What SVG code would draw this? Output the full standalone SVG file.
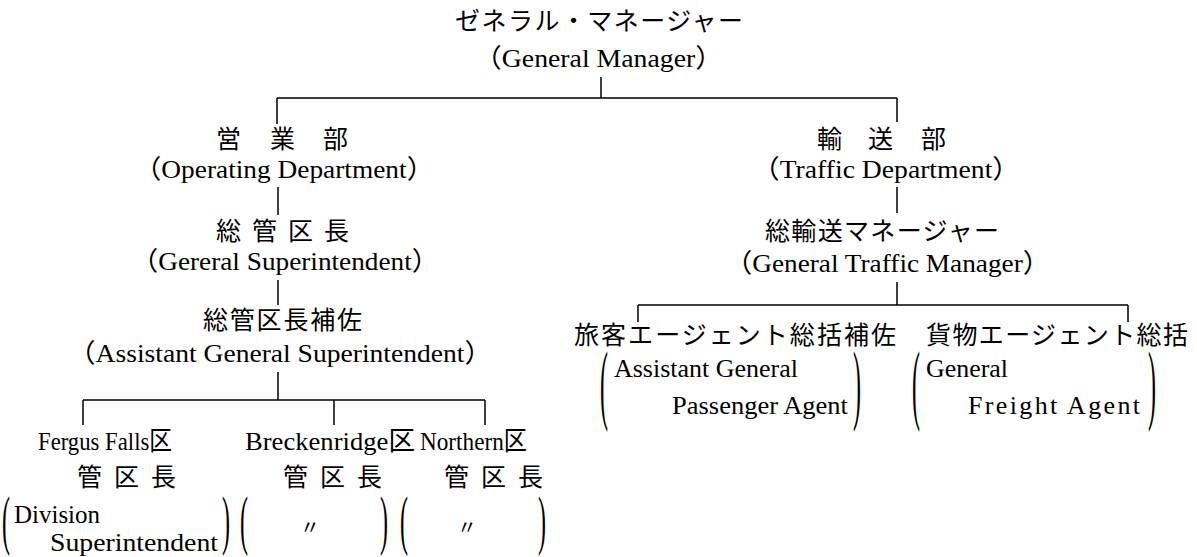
<svg xmlns="http://www.w3.org/2000/svg" width="1197" height="557" viewBox="0 0 1197 557">
<style>
.jp{font-family:"Noto Sans CJK JP","Noto Sans CJK SC",sans-serif;font-size:25px;fill:#000}
.en{font-family:"Liberation Serif","Noto Sans CJK JP",serif;font-size:26px;fill:#000}
.br{font-family:"Liberation Serif",serif;font-size:24px;fill:#000}
.ln{stroke:#000;stroke-width:1.5;fill:none}
</style>
<rect width="1197" height="557" fill="#fff"/>
<g id="connectors" class="ln">
<path d="M601 77V98M277 98H897M277 98V124M897 98V122"/>
<path d="M278 187V215M897 187V213"/>
<path d="M278 280V305M897 282V305"/>
<path d="M638 305H1128M638 305V322M1128 305V322"/>
<path d="M278 372V400M83 400H485M83 400V425M334 400V425M485 400V425"/>
</g>
<g id="gm">
<text class="jp" x="455" y="30" textLength="288" lengthAdjust="spacing">ゼネラル・マネージャー</text>
<text class="en" x="474" y="67" textLength="249" lengthAdjust="spacingAndGlyphs">（General Manager）</text>
</g>
<g id="operating">
<text class="jp" x="216 270 323" y="148">営業部</text>
<text class="en" x="134" y="178" textLength="300" lengthAdjust="spacingAndGlyphs">（Operating Department）</text>
</g>
<g id="gensup">
<text class="jp" x="216 252 288 324" y="240">総管区長</text>
<text class="en" x="131" y="270" textLength="308" lengthAdjust="spacingAndGlyphs">（Gereral Superintendent）</text>
</g>
<g id="asstgensup">
<text class="jp" x="203" y="329" textLength="159" lengthAdjust="spacing">総管区長補佐</text>
<text class="en" x="68" y="362" textLength="424" lengthAdjust="spacingAndGlyphs">（Assistant General Superintendent）</text>
</g>
<g id="fergus">
<text class="en" x="38" y="450" textLength="134" lengthAdjust="spacingAndGlyphs">Fergus Falls区</text>
<text class="jp" x="77 114 151" y="486">管区長</text>
<text class="br" transform="translate(2,542) scale(1,2.7)">(</text>
<text class="en" x="14" y="523" textLength="86" lengthAdjust="spacingAndGlyphs">Division</text>
<text class="en" x="50" y="551" textLength="168" lengthAdjust="spacingAndGlyphs">Superintendent</text>
<text class="br" transform="translate(222,542) scale(1,2.7)">)</text>
</g>
<g id="breckenridge">
<text class="en" x="245" y="450" textLength="170" lengthAdjust="spacingAndGlyphs">Breckenridge区</text>
<text class="jp" x="283 320 357" y="486">管区長</text>
<text class="br" transform="translate(240,542) scale(1,2.7)">(</text>
<text class="jp" x="300" y="535" style="font-size:20px">〃</text>
<text class="br" transform="translate(380,542) scale(1,2.7)">)</text>
</g>
<g id="northern">
<text class="en" x="420" y="450" textLength="107" lengthAdjust="spacingAndGlyphs">Northern区</text>
<text class="jp" x="444 481 518" y="486">管区長</text>
<text class="br" transform="translate(400,542) scale(1,2.7)">(</text>
<text class="jp" x="457" y="535" style="font-size:20px">〃</text>
<text class="br" transform="translate(538,542) scale(1,2.7)">)</text>
</g>
<g id="traffic">
<text class="jp" x="817 868 921" y="148">輸送部</text>
<text class="en" x="752" y="178" textLength="268" lengthAdjust="spacingAndGlyphs">（Traffic Department）</text>
</g>
<g id="gtm">
<text class="jp" x="765" y="240" textLength="234" lengthAdjust="spacing">総輸送マネージャー</text>
<text class="en" x="725" y="272" textLength="325" lengthAdjust="spacingAndGlyphs">（General Traffic Manager）</text>
</g>
<g id="passenger">
<text class="jp" x="574" y="344" textLength="322" lengthAdjust="spacing">旅客エージェント総括補佐</text>
<text class="br" transform="translate(600,413) scale(1,3.7)">(</text>
<text class="en" x="614" y="377" textLength="184" lengthAdjust="spacingAndGlyphs">Assistant General</text>
<text class="en" x="672" y="414" textLength="176" lengthAdjust="spacingAndGlyphs">Passenger Agent</text>
<text class="br" transform="translate(853,413) scale(1,3.7)">)</text>
</g>
<g id="freight">
<text class="jp" x="926" y="344" textLength="262" lengthAdjust="spacing">貨物エージェント総括</text>
<text class="br" transform="translate(912,413) scale(1,3.7)">(</text>
<text class="en" x="926" y="377" textLength="82" lengthAdjust="spacingAndGlyphs">General</text>
<text class="en" x="968" y="414" textLength="172" lengthAdjust="spacing">Freight Agent</text>
<text class="br" transform="translate(1148,413) scale(1,3.7)">)</text>
</g>
</svg>
